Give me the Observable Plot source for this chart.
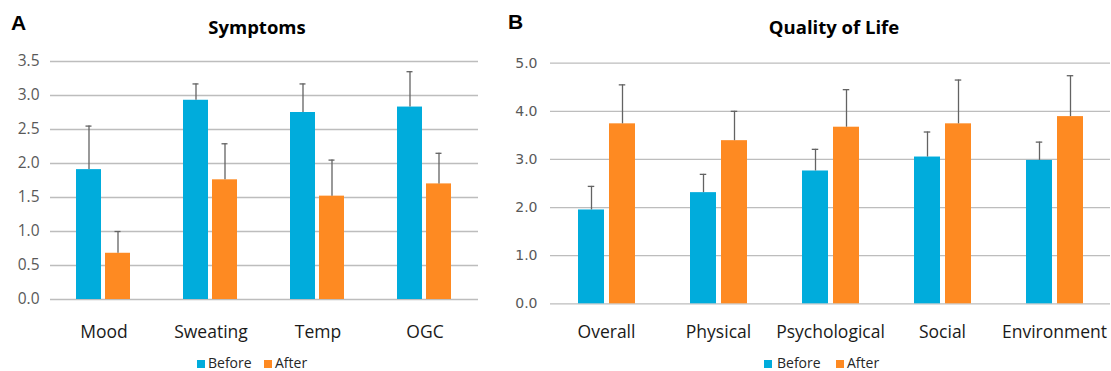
<!DOCTYPE html>
<html><head><meta charset="utf-8">
<script src="https://cdn.jsdelivr.net/npm/d3@7"></script>
<script src="https://cdn.jsdelivr.net/npm/@observablehq/plot@0.6"></script>
<style>
body{margin:0;background:#fff;width:1111px;height:371px;position:relative;overflow:hidden;font-family:"Open Sans",sans-serif;}
.abs{position:absolute;white-space:nowrap;}
.letter{font-family:"Liberation Sans",Arial,sans-serif;font-weight:bold;font-size:21px;line-height:21px;color:#000;}
.title{font-family:"Open Sans",sans-serif;font-weight:bold;font-size:18.5px;line-height:18.5px;color:#000;text-align:center;width:300px;}
.leg{font-family:"Open Sans",sans-serif;font-size:14px;line-height:14px;color:#262626;}
.sw{width:8px;height:8px;}
</style></head><body>
<div id="A" class="abs" style="left:0;top:0"></div>
<div id="B" class="abs" style="left:500px;top:0"></div>
<div class="abs letter" style="left:11px;top:12px">A</div>
<div class="abs letter" style="left:508px;top:11px">B</div>
<div class="abs title" style="left:107px;top:17.6px">Symptoms</div>
<div class="abs title" style="left:684px;top:17.6px">Quality of Life</div>
<div id="legA"></div>
<div id="legB"></div>
<script>
const series = ["Before", "After"];
const seriesColors = ["#00acdc", "#fe8a22"];

const symptomCategories = ["Mood", "Sweating", "Temp", "OGC"];
const symptomBefore = [1.91, 2.93, 2.75, 2.83];
const symptomBeforeSD = [0.64, 0.24, 0.42, 0.52];
const symptomAfter = [0.68, 1.76, 1.52, 1.70];
const symptomAfterSD = [0.32, 0.53, 0.53, 0.45];
const symptomTicks = [0, 0.5, 1.0, 1.5, 2.0, 2.5, 3.0, 3.5];

const qolCategories = ["Overall", "Physical", "Psychological", "Social", "Environment"];
const qolBefore = [1.95, 2.31, 2.76, 3.05, 2.98];
const qolBeforeSD = [0.49, 0.38, 0.45, 0.52, 0.38];
const qolAfter = [3.74, 3.39, 3.67, 3.74, 3.89];
const qolAfterSD = [0.81, 0.61, 0.78, 0.91, 0.85];
const qolTicks = [0, 1, 2, 3, 4, 5];

function panel(o) {
  const rows = o.cats.flatMap((c, i) => [
    {cat: c, series: "Before", v: o.before[i], sd: o.sdB[i]},
    {cat: c, series: "After", v: o.after[i], sd: o.sdA[i]}
  ]);
  const bw = o.bw;
  const capInset = (bw - 7) / 2;
  const plot = Plot.plot({
    width: o.width, height: o.height,
    marginLeft: o.ml, marginRight: o.mr, marginTop: o.mt, marginBottom: o.mb,
    style: {fontFamily: o.tickFont, fontSize: o.tickSize + "px", color: "#595959", background: "transparent", overflow: "visible"},
    facet: {data: rows, x: "cat"},
    fx: {domain: o.cats, padding: 0, label: null, tickSize: 0, tickPadding: o.catPad, axis: "bottom"},
    x: {domain: series, paddingInner: o.pi, paddingOuter: o.po, axis: null},
    y: {domain: [0, o.ticks[o.ticks.length - 1]], ticks: o.ticks, tickFormat: d3.format(".1f"), tickSize: 0, tickPadding: o.yPad, label: null},
    color: {domain: series, range: seriesColors},
    marks: [
      Plot.ruleY(o.ticks, {stroke: "#bdbdbd", strokeWidth: 1.3, facet: null}),
      Plot.barY(rows, {x: "series", y: "v", fill: "series"}),
      Plot.ruleX(rows, {x: "series", y1: "v", y2: d => d.v + d.sd, stroke: "#636363", strokeWidth: 1.3}),
      Plot.tickY(rows, {x: "series", y: d => d.v + d.sd, stroke: "#636363", strokeWidth: 1.3, insetLeft: capInset, insetRight: capInset})
    ]
  });
  plot.querySelectorAll('[aria-label^="fx-axis"] text').forEach(t => {
    t.setAttribute("font-size", "17.5");
    t.style.fontSize = "17.5px";
    t.style.fontFamily = '"Open Sans", sans-serif';
    t.setAttribute("fill", "#1a1a1a");
  });
  return plot;
}

document.getElementById("A").appendChild(panel({
  cats: symptomCategories, before: symptomBefore, after: symptomAfter, sdB: symptomBeforeSD, sdA: symptomAfterSD,
  ticks: symptomTicks, width: 500, height: 371, ml: 48, mr: 20.6, mt: 61, mb: 72,
  pi: 4 / 30, po: 0.857, bw: 26, tickFont: '"Open Sans", sans-serif', tickSize: 15.5, yPad: 11, catPad: 26
}));
document.getElementById("B").appendChild(panel({
  cats: qolCategories, before: qolBefore, after: qolAfter, sdB: qolBeforeSD, sdA: qolAfterSD,
  ticks: qolTicks, width: 611, height: 371, ml: 49, mr: 1, mt: 62.7, mb: 67.7,
  pi: 5.5 / 32, po: 0.839, bw: 26.5, tickFont: '"DejaVu Sans", sans-serif', tickSize: 14, yPad: 13, catPad: 22
}));

function legend(id, items) {
  const el = document.getElementById(id);
  items.forEach(it => {
    const sq = document.createElement("div");
    sq.className = "abs sw";
    sq.style.left = it.sx + "px"; sq.style.top = "360px"; sq.style.background = seriesColors[series.indexOf(it.name)];
    el.appendChild(sq);
    const tx = document.createElement("div");
    tx.className = "abs leg";
    tx.style.left = it.tx + "px"; tx.style.top = "356px";
    tx.textContent = it.name;
    el.appendChild(tx);
  });
}
legend("legA", [{name: series[0], sx: 197, tx: 208}, {name: series[1], sx: 264, tx: 275}]);
legend("legB", [{name: series[0], sx: 764, tx: 777}, {name: series[1], sx: 836, tx: 847}]);
</script>
</body></html>
